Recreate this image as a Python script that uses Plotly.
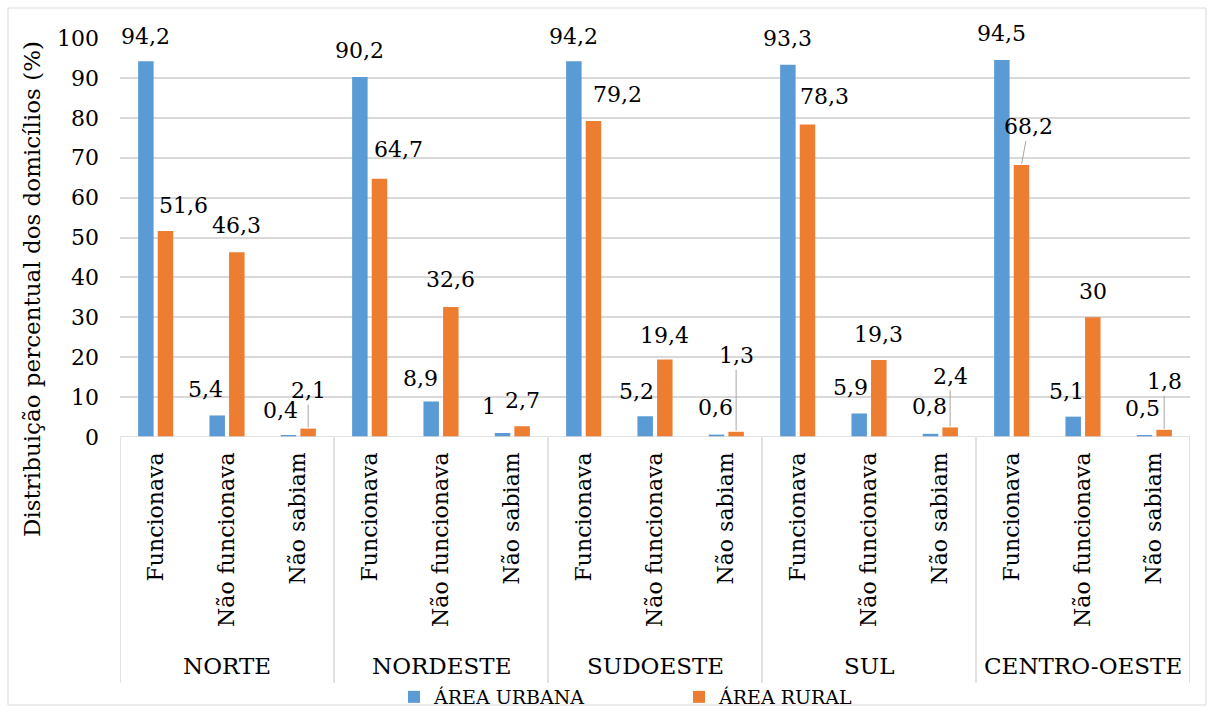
import plotly.graph_objects as go

# ---------------- data ----------------
regions = ["NORTE", "NORDESTE", "SUDOESTE", "SUL", "CENTRO-OESTE"]
statuses = ["Funcionava", "Não funcionava", "Não sabiam"]
urbana = [94.2, 5.4, 0.4, 90.2, 8.9, 1.0, 94.2, 5.2, 0.6, 93.3, 5.9, 0.8, 94.5, 5.1, 0.5]
rural = [51.6, 46.3, 2.1, 64.7, 32.6, 2.7, 79.2, 19.4, 1.3, 78.3, 19.3, 2.4, 68.2, 30.0, 1.8]
y_ticks = list(range(0, 101, 10))

# label placement (pixels): dx from bar centre, dy = bar top -> label centre
urb_dx = [0, -12, -8, 0, -11, -14, 0, -9, -1, 0, -9, -1, 0, -7, -2]
urb_dy = [25, 26, 25, 27, 23, 27, 25, 25, 27, 26, 26, 27, 26, 25, 27]
rur_dx = [18, 0, 0, 19, 0, 0, 24, 0, 0, 17, 0, 0, 7, 0, 0]
rur_dy = [26, 27, 38, 29, 27, 26, 26, 24, 76, 28, 25, 51, 38, 26, 48]
rur_leader = [False, False, True, False, False, False, False, False, True,
              False, False, True, True, False, True]

# ---------------- layout constants ----------------
W, H = 1216, 715
PLOT_L, PLOT_R, PLOT_T, PLOT_B = 120, 1190, 38, 437   # page pixels
ML, MT = PLOT_L, PLOT_T
MR = W - PLOT_R
MB = H - PLOT_B
PW = PLOT_R - PLOT_L
PH = PLOT_B - PLOT_T
FONT = "DejaVu Serif"
BLUE = "#5B9BD5"
ORANGE = "#ED7D31"
GRID = "#D9D9D9"
BARGAP = 0.45
BARGROUPGAP = 0.21

n_cat = len(regions) * len(statuses)
xs = list(range(n_cat))
cat_labels = [s for _ in regions for s in statuses]

def fmt(v):
    return f"{v:g}".replace(".", ",")

def px_x(p):   # page pixel -> paper x
    return (p - PLOT_L) / PW

def px_y(p):   # page pixel -> paper y
    return (PLOT_B - p) / PH

fig = go.Figure()
fig.add_trace(go.Bar(x=xs, y=urbana, name="ÁREA URBANA", legend="legend",
                     marker=dict(color=BLUE, line=dict(width=0))))
fig.add_trace(go.Bar(x=xs, y=rural, name="ÁREA RURAL", legend="legend2",
                     marker=dict(color=ORANGE, line=dict(width=0))))

unit_px = PW / n_cat
bar_off = (1 - BARGAP) / 4 * unit_px

annotations = []
for i in xs:
    annotations.append(dict(
        x=i, y=urbana[i], xref="x", yref="y", text=fmt(urbana[i]),
        xshift=-bar_off, showarrow=True, ax=urb_dx[i], ay=-urb_dy[i],
        arrowcolor="rgba(0,0,0,0)", arrowwidth=1, arrowhead=0,
        font=dict(family=FONT, size=22, color="black")))
    annotations.append(dict(
        x=i, y=rural[i], xref="x", yref="y", text=fmt(rural[i]),
        xshift=bar_off, showarrow=True, ax=rur_dx[i], ay=-rur_dy[i],
        arrowcolor="#A6A6A6" if rur_leader[i] else "rgba(0,0,0,0)",
        arrowwidth=1, arrowhead=0, standoff=1,
        font=dict(family=FONT, size=22, color="black")))

# group labels
for g, name in enumerate(regions):
    annotations.append(dict(
        x=g * 3 + 1, y=px_y(666), xref="x", yref="paper", text=name,
        showarrow=False, xanchor="center", yanchor="middle",
        font=dict(family=FONT, size=23, color="black")))

# y-axis title
annotations.append(dict(
    x=px_x(32), y=px_y(289), xref="paper", yref="paper",
    text="Distribuição percentual dos domicílios (%)", textangle=-90,
    showarrow=False, xanchor="center", yanchor="middle",
    font=dict(family=FONT, size=23, color="black")))

shapes = []
shapes.append(dict(type="rect", xref="paper", yref="paper",
                   x0=px_x(8), x1=px_x(1206), y0=px_y(705), y1=px_y(8),
                   line=dict(color=GRID, width=1)))
shapes.append(dict(type="line", xref="x", yref="y", x0=-0.5, x1=n_cat - 0.5, y0=0, y1=0,
                   line=dict(color=GRID, width=1.5)))
for g in range(len(regions) + 1):
    xb = g * 3 - 0.5
    shapes.append(dict(type="line", xref="x", yref="paper", x0=xb, x1=xb,
                       y0=0, y1=px_y(683), line=dict(color=GRID, width=1.5)))

legend_common = dict(orientation="h", yanchor="middle", xanchor="left", itemwidth=30,
                     font=dict(family=FONT, size=19, color="black"), bgcolor="rgba(0,0,0,0)")

fig.update_layout(
    width=W, height=H,
    margin=dict(l=ML, r=MR, t=MT, b=MB, autoexpand=False),
    paper_bgcolor="white", plot_bgcolor="white",
    barmode="group", bargap=BARGAP, bargroupgap=BARGROUPGAP,
    font=dict(family=FONT, size=22, color="black"),
    showlegend=True,
    xaxis=dict(range=[-0.5, n_cat - 0.5], tickmode="array", tickvals=xs, ticktext=cat_labels,
               tickangle=-90, ticks="", showgrid=False, zeroline=False, showline=False,
               ticklabelstandoff=10, tickfont=dict(family=FONT, size=22, color="black")),
    yaxis=dict(range=[0, 100], tickmode="array", tickvals=y_ticks, ticks="",
               showgrid=True, gridcolor=GRID, gridwidth=1.5, zeroline=False, showline=False,
               ticklabelstandoff=20, tickfont=dict(family=FONT, size=22, color="black")),
    legend=dict(x=px_x(394), y=px_y(697), **legend_common),
    legend2=dict(x=px_x(679), y=px_y(697), **legend_common),
    annotations=annotations, shapes=shapes,
)

fig.write_html("out.html", config={"displayModeBar": False},
               post_script="document.body.style.margin='0';document.body.style.overflow='hidden';")
